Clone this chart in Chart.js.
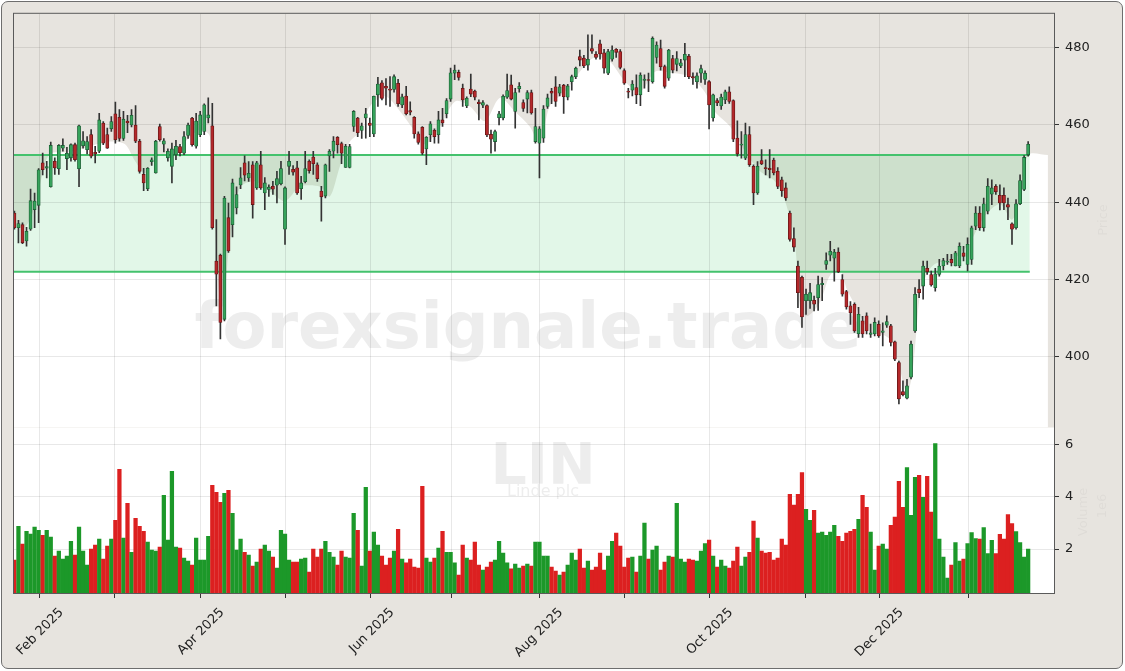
<!DOCTYPE html>
<html>
<head>
<meta charset="utf-8">
<title>LIN - Linde plc</title>
<script src="https://cdn.jsdelivr.net/npm/chart.js@4.4.1/dist/chart.umd.min.js"></script>
<style>
  html, body { margin: 0; padding: 0; background: #fff; }
  #wrap { position: relative; width: 1125px; height: 671px; }
  #frame { position: absolute; left: 1px; top: 1px; width: 1120px; height: 666px;
           border: 1.5px solid #6e6e6e; border-radius: 7px; background: #e7e4df; }
  #c { position: absolute; left: 0; top: 0; }
</style>
</head>
<body>
<div id="wrap"><div id="frame"></div><canvas id="c" width="1125" height="671"></canvas></div>
<script>
// daily candles, index 0 = 24 Jan 2025 ... 251 = 23 Jan 2026
var opens = [437.2,433.4,434.2,430.0,433.0,438.1,439.2,450.2,448.8,444.0,
  450.6,448.7,454.0,451.3,451.5,454.9,448.7,454.6,453.6,457.5,
  452.9,453.2,460.5,457.5,459.0,462.9,462.0,456.5,461.0,460.0,
  460.0,455.8,447.2,443.5,450.5,447.6,459.6,455.0,451.5,449.3,
  452.3,454.4,452.7,457.3,461.8,454.5,457.5,458.3,461.8,459.8,
  424.8,426.3,409.7,436.0,434.2,438.5,444.5,450.2,446.3,449.7,
  443.7,449.7,442.4,443.3,444.1,444.4,444.8,433.0,449.3,448.5,
  448.9,443.5,445.3,450.6,451.7,449.7,442.9,441.6,452.0,453.2,
  456.8,455.2,449.0,449.0,459.6,461.8,458.6,461.8,460.5,457.7,
  467.8,470.9,470.0,469.3,469.2,470.8,465.2,467.5,463.7,462.0,
  457.7,459.4,453.8,457.5,458.6,457.5,461.3,462.9,466.7,473.4,
  473.6,469.5,464.9,469.3,468.8,465.9,465.1,465.0,457.6,455.7,
  461.9,461.8,467.2,470.4,463.5,469.4,465.8,466.7,468.4,455.7,
  455.3,456.6,464.8,468.7,469.9,468.2,470.3,467.2,471.2,472.5,
  477.7,477.3,475.5,479.8,478.3,481.0,478.7,473.4,477.0,479.6,
  479.0,474.1,468.7,469.0,469.7,467.8,471.5,471.7,471.2,477.5,
  479.8,475.1,472.1,477.2,475.7,475.3,476.8,477.8,472.5,471.2,
  473.4,471.8,471.2,461.8,466.3,464.9,466.5,468.6,466.3,456.6,
  454.8,451.4,457.5,449.3,442.4,450.8,449.0,448.8,450.9,448.0,
  445.8,443.7,437.2,430.6,423.5,420.6,414.5,414.5,414.6,415.3,
  418.7,423.9,426.3,425.5,427.1,420.0,416.9,413.2,413.6,406.0,
  409.3,410.6,405.8,405.9,408.4,406.3,408.2,408.0,403.9,398.5,
  391.0,389.3,394.7,406.7,417.5,418.3,422.9,421.3,417.9,421.3,
  423.5,424.5,425.2,423.5,423.5,426.9,423.9,425.2,433.8,437.2,
  433.4,437.7,442.1,444.1,441.8,441.8,439.4,434.4,433.4,439.6,
  443.3,452.3];
var highs = [437.7,435.3,434.7,433.5,443.4,442.4,448.7,452.7,450.6,455.6,
  451.5,454.9,456.4,454.2,455.1,455.3,460.0,458.3,457.0,458.8,
  454.5,463.0,460.9,459.2,462.2,465.9,464.0,463.5,462.5,464.0,
  465.0,456.3,448.8,449.0,451.5,456.0,460.2,456.5,453.8,455.3,
  456.0,455.0,458.3,460.5,462.0,463.0,463.5,465.5,467.0,465.6,
  435.5,426.6,441.5,439.8,446.0,444.0,449.0,452.0,450.5,450.5,
  450.6,453.2,446.4,444.5,445.4,448.0,450.6,444.0,453.2,449.5,
  450.6,446.7,453.2,451.0,453.2,450.2,444.1,449.9,453.6,457.0,
  457.0,455.6,455.0,455.0,463.7,462.0,460.5,464.3,461.8,467.5,
  472.3,471.5,472.0,472.5,473.0,471.8,468.0,470.0,466.0,462.2,
  458.2,459.6,457.0,460.9,459.0,463.5,464.3,466.8,474.7,475.5,
  474.2,470.6,467.3,473.2,469.0,466.5,466.3,465.2,458.7,458.7,
  463.5,467.8,473.2,472.9,469.5,471.0,466.5,468.9,469.0,464.3,
  459.6,465.0,468.0,469.5,472.5,470.5,470.5,470.5,472.9,475.0,
  479.4,478.0,483.3,483.3,479.0,482.0,479.6,479.6,480.5,479.8,
  479.5,474.5,469.5,471.5,473.0,473.5,473.0,473.4,482.8,481.5,
  482.0,475.5,479.6,478.0,479.0,477.0,481.1,478.3,473.5,473.5,
  475.5,474.0,471.5,468.0,466.8,468.0,469.0,469.9,466.5,461.1,
  458.3,460.5,459.6,449.7,450.5,453.6,451.0,453.6,451.4,449.0,
  446.5,445.0,437.7,433.4,424.8,420.9,417.5,419.0,415.7,420.9,
  420.5,426.9,429.9,427.8,428.2,421.3,417.2,414.3,414.0,412.8,
  410.5,411.4,408.5,410.1,409.3,408.8,410.6,408.4,404.1,398.9,
  393.8,394.2,404.1,417.9,420.0,424.8,424.8,422.2,422.9,425.2,
  425.5,426.5,426.5,427.3,429.5,428.6,430.8,433.8,438.9,438.9,
  441.1,446.1,445.8,444.6,444.5,443.7,441.1,434.7,440.7,447.1,
  452.1,455.7];
var lows = [433.0,429.5,429.3,428.6,432.7,433.4,434.7,447.1,446.3,443.9,
  447.2,447.2,453.2,448.4,450.6,450.6,444.0,454.0,452.5,451.5,
  450.2,452.8,454.9,453.9,458.3,455.3,455.8,456.0,458.0,459.5,
  455.4,447.5,443.0,443.0,449.5,447.5,455.8,453.0,450.6,445.0,
  451.0,452.0,452.3,456.5,454.5,454.0,457.0,457.5,460.5,433.0,
  413.2,404.6,409.3,427.0,431.0,437.0,443.5,445.5,445.4,435.9,
  443.3,443.3,438.1,441.5,442.0,439.8,444.5,429.1,447.2,447.0,
  442.0,440.7,445.0,447.5,447.2,445.4,435.1,441.1,448.0,451.5,
  452.7,450.0,449.0,448.9,458.3,457.0,456.5,456.6,457.0,457.0,
  464.8,466.5,465.2,464.8,468.5,464.8,464.5,462.6,462.6,456.6,
  455.0,452.3,449.7,455.7,455.3,455.3,459.6,461.8,466.1,471.7,
  471.6,464.8,464.5,467.3,466.5,461.3,464.5,457.0,452.7,453.2,
  460.0,461.3,466.9,466.5,459.2,468.5,463.5,463.1,462.8,455.3,
  446.3,455.5,464.3,465.5,464.8,467.5,463.0,466.5,469.0,472.0,
  475.3,474.8,474.2,478.5,477.0,477.0,473.4,473.0,476.5,477.5,
  474.5,470.5,467.0,467.5,465.5,465.0,469.5,468.6,470.8,476.0,
  474.2,469.5,471.5,473.5,474.0,474.8,472.5,472.0,470.5,469.5,
  471.0,470.5,459.0,461.0,465.0,464.0,465.5,465.6,455.7,451.9,
  451.4,451.0,449.3,439.4,442.0,449.7,447.1,446.3,447.1,443.5,
  441.5,440.5,429.9,427.3,412.7,407.6,411.0,412.5,411.9,412.0,
  414.5,422.6,424.8,419.6,421.8,415.7,412.3,408.4,406.3,405.0,
  405.0,405.9,405.0,405.4,405.0,402.8,407.6,402.8,399.0,387.8,
  389.9,389.1,394.3,406.3,415.3,414.9,421.3,418.3,417.0,420.9,
  422.5,423.9,423.5,423.5,423.1,424.8,422.2,423.9,432.9,432.7,
  432.5,437.0,439.4,442.0,438.0,438.1,435.5,429.1,433.0,439.4,
  443.0,451.9];
var closes = [433.4,434.5,429.5,432.5,440.4,440.3,448.4,448.4,449.2,454.7,
  448.9,454.7,454.7,452.7,454.9,451.0,459.8,455.9,455.7,451.9,
  452.5,461.3,455.3,454.0,460.9,456.2,456.5,461.5,460.5,462.5,
  455.8,448.0,445.0,448.8,451.0,455.8,456.2,455.9,453.2,453.8,
  454.5,452.8,457.0,460.0,454.9,461.0,462.6,465.2,462.6,433.4,
  421.4,408.9,441.1,427.4,445.0,442.0,446.3,447.0,447.5,439.4,
  450.2,443.7,445.0,443.9,443.4,446.1,448.7,443.7,450.6,447.8,
  442.4,445.0,448.7,448.2,450.0,446.1,441.4,449.7,453.2,455.8,
  454.9,452.7,454.5,454.4,463.5,458.0,459.8,462.9,459.9,467.4,
  470.6,466.9,469.5,469.0,472.5,465.5,467.3,462.9,463.3,457.7,
  455.5,452.7,456.8,460.3,457.0,461.3,460.5,466.3,473.5,474.2,
  472.3,466.5,466.9,468.0,467.2,465.5,465.8,457.4,456.3,458.3,
  462.9,467.4,468.9,466.7,468.4,470.0,464.3,468.4,463.1,459.6,
  459.0,464.1,467.0,468.2,466.1,469.9,467.3,470.1,472.5,474.7,
  476.8,475.3,477.0,479.1,477.5,478.4,474.7,479.0,479.4,478.8,
  474.9,470.8,468.5,470.6,467.8,472.9,471.9,471.5,482.4,480.7,
  475.1,470.0,479.4,474.2,477.2,476.1,478.3,472.5,472.2,472.7,
  474.6,473.4,465.2,467.8,465.7,467.2,468.6,466.1,456.3,452.5,
  455.0,457.5,449.7,442.4,449.3,449.9,448.7,448.4,447.6,444.1,
  443.0,441.1,430.4,428.4,416.6,410.3,416.2,416.6,413.6,418.7,
  419.0,424.9,427.3,427.1,422.0,416.2,412.9,411.4,406.7,411.0,
  405.9,406.7,406.2,408.9,405.4,406.7,409.1,403.7,399.4,389.1,
  390.2,392.5,403.3,416.2,416.6,423.5,422.0,418.6,421.5,423.5,
  424.9,424.8,424.3,426.9,428.6,426.0,429.1,433.4,437.2,433.4,
  439.6,444.1,443.7,442.7,439.8,439.8,438.7,433.0,439.6,445.6,
  451.6,455.0];
// volume in millions
var volumes = [1.58,2.87,2.19,2.68,2.57,2.84,2.72,2.53,2.72,2.46,
  1.73,1.92,1.62,1.73,2.30,1.77,2.84,1.92,1.39,2.00,
  2.15,2.38,1.62,2.11,2.38,3.10,5.05,2.42,3.75,1.88,
  3.18,2.87,2.68,2.27,1.96,1.92,2.08,4.06,2.34,4.97,
  2.08,2.04,1.66,1.54,1.39,2.42,1.58,1.58,2.49,4.44,
  4.17,3.79,4.13,4.25,3.37,1.96,2.38,1.88,1.77,1.35,
  1.50,2.00,2.15,1.92,1.69,1.27,2.72,2.57,1.58,1.50,
  1.50,1.62,1.66,1.12,2.00,1.69,2.00,2.30,1.88,1.69,
  1.39,1.92,1.69,1.66,3.37,2.72,1.35,4.36,1.92,2.65,
  2.15,1.73,1.39,1.66,1.92,2.76,1.62,1.47,1.62,1.31,
  1.27,4.40,1.66,1.50,1.66,2.04,2.68,1.88,1.88,1.47,
  1.01,2.15,1.66,1.58,2.27,1.39,1.20,1.31,1.50,1.58,
  2.30,1.85,1.47,1.24,1.43,1.27,1.35,1.43,1.35,2.27,
  2.27,1.73,1.73,1.31,1.16,1.01,1.12,1.39,1.85,1.58,
  2.00,1.27,1.54,1.20,1.31,1.85,1.20,1.73,2.30,2.61,
  2.11,1.31,1.66,1.69,1.12,1.73,2.99,1.62,1.96,2.11,
  1.20,1.50,1.73,1.69,3.75,1.62,1.50,1.62,1.58,1.54,
  1.92,2.21,2.34,1.73,1.31,1.58,1.35,1.27,1.54,2.08,
  1.35,1.69,1.88,3.07,2.42,1.92,1.85,1.88,1.58,1.66,
  2.38,2.15,4.09,3.68,4.09,4.93,3.52,3.10,3.48,2.61,
  2.65,2.53,2.65,2.91,2.49,2.30,2.61,2.68,2.76,3.14,
  4.06,3.60,2.65,1.20,2.11,2.19,2.00,2.91,3.22,4.59,
  3.60,5.12,3.29,4.74,4.82,3.98,4.78,3.42,6.04,2.38,
  1.69,0.89,1.39,2.25,1.54,1.62,2.21,2.63,2.40,2.38,
  2.82,1.83,2.33,1.83,2.56,2.38,3.32,2.98,2.67,2.25,
  1.69,2.00];

// month ticks (candle index) and labels
var monthTickPos = [6.2, 24.9, 46.0, 67.0, 88.1, 108.3, 129.9, 151.0, 172.0, 195.8, 214.2, 236.2];
var monthTickLabels = ['Feb 2025', '', 'Apr 2025', '', 'Jun 2025', '', 'Aug 2025', '', 'Oct 2025', '', 'Dec 2025', ''];

// range band
var bandHigh = 452.2;
var bandLow = 422.0;
var bandEnd = 251.4;

// outline of the light area under the price
var shadeX = [-0.1,2.6,5.1,6.9,8.8,13.8,18.7,23.7,27.4,29.9,32.4,34.8,38.5,42.3,46.0,48.4,49.3,50.2,51.0,52.0,
  53.0,54.5,56.0,59.6,63.3,67.0,70.7,75.7,78.1,80.6,83.1,85.6,88.0,91.8,95.5,99.2,101.7,105.4,109.1,112.8,
  116.5,120.2,123.9,127.6,130.1,132.6,136.3,140.0,143.7,147.4,151.2,154.9,158.6,162.3,167.3,170.9,173.4,177.2,180.9,184.6,
  188.3,190.8,193.2,194.5,196.2,199.4,201.9,204.4,206.1,208.1,211.8,215.5,217.5,219.2,221.0,222.2,223.2,224.2,225.7,227.9,
  232.8,236.5,240.3,244.0,247.0,249.0,251.0,255.9];
var shadeY = [433.8,433.5,439.0,447.0,452.5,453.0,454.5,455.7,455.0,450.6,447.5,451.5,453.0,455.7,458.8,457.0,440.0,424.0,414.0,416.0,
  427.0,437.0,444.0,445.4,442.8,440.3,444.0,444.0,441.5,449.3,455.7,458.3,464.8,467.4,463.5,458.3,455.0,459.6,466.1,464.8,
  461.0,467.0,463.5,459.6,455.0,465.0,468.6,473.8,477.5,476.4,471.2,468.6,473.8,473.5,472.5,468.6,463.5,459.6,453.2,448.0,
  445.4,440.3,430.0,413.0,410.5,414.0,421.0,422.5,417.5,413.5,406.5,405.5,403.5,397.0,390.5,395.0,405.0,416.0,421.0,424.0,
  425.5,429.5,436.5,439.5,435.5,441.0,452.2,452.2];

var UP = '#36a35b', UP_EDGE = '#1d5f35', DOWN = '#b4282b', DOWN_EDGE = '#651515';
var VOL_UP = '#1c9829', VOL_DOWN = '#dc2020';

var bodies = [], wicks = [], vols = [], bodyFill = [], bodyEdge = [], volFill = [];
for (var i = 0; i < closes.length; i++) {
  var up = closes[i] >= opens[i];
  bodies.push({x: i, y: [opens[i], closes[i]]});
  wicks.push({x: i, y: [lows[i], highs[i]]});
  vols.push({x: i, y: volumes[i]});
  bodyFill.push(up ? UP : DOWN);
  bodyEdge.push(up ? UP_EDGE : DOWN_EDGE);
  volFill.push(up ? VOL_UP : VOL_DOWN);
}
var shade = shadeX.map(function (x, j) { return {x: x, y: shadeY[j]}; });

function vtext(c, txt, x, y) {
  c.save();
  c.translate(x, y);
  c.rotate(-Math.PI / 2);
  c.fillText(txt, 0, 0);
  c.restore();
}

var panels = {
  id: 'panels',
  beforeDraw: function (chart) {
    var c = chart.ctx, a = chart.chartArea, v = chart.scales.yv;
    c.save();
    c.fillStyle = '#ffffff';
    c.fillRect(a.left, v.top, a.right - a.left, v.bottom - v.top);
    c.restore();
  },
  beforeDatasetsDraw: function (chart) {
    var c = chart.ctx;
    c.save();
    c.textAlign = 'center';
    c.textBaseline = 'alphabetic';
    c.fillStyle = 'rgba(140,140,140,0.16)';
    c.font = 'bold 64px "DejaVu Sans"';
    c.fillText('forexsignale.trade', 528, 348);
    c.font = 'bold 57px "DejaVu Sans"';
    c.fillText('LIN', 543, 484);
    c.font = '16px "DejaVu Sans"';
    c.fillText('Linde plc', 543, 496);
    c.restore();
  },
  afterDraw: function (chart) {
    var c = chart.ctx, a = chart.chartArea;
    c.save();
    c.strokeStyle = '#5a5a5a';
    c.lineWidth = 1;
    c.strokeRect(a.left - 0.5, a.top - 0.5, a.right - a.left + 1, a.bottom - a.top + 1);
    // faint axis titles on the right
    c.fillStyle = 'rgba(0,0,0,0.035)';
    c.textAlign = 'center';
    c.textBaseline = 'middle';
    c.font = '13px "DejaVu Sans"';
    vtext(c, 'Price', 1104, 220);
    vtext(c, 'Volume', 1084, 512);
    vtext(c, '1e6', 1103, 506);
    c.restore();
  }
};

Chart.defaults.font.family = '"DejaVu Sans", sans-serif';
Chart.defaults.font.size = 13;
Chart.defaults.color = '#222';

var GRID = 'rgba(0,0,0,0.09)';

new Chart(document.getElementById('c'), {
  data: {
    datasets: [
      {type: 'bar', label: 'Body', data: bodies, yAxisID: 'y', backgroundColor: bodyFill, borderColor: bodyEdge,
       borderWidth: 0.8, borderSkipped: false, barThickness: 3.2, minBarLength: 1, grouped: false, order: 0},
      {type: 'bar', label: 'Wick', data: wicks, yAxisID: 'y', backgroundColor: '#333333',
       barThickness: 1, grouped: false, order: 1},
      {type: 'bar', label: 'Volume', data: vols, yAxisID: 'yv', backgroundColor: volFill,
       barThickness: 3.6, grouped: false, order: 0},
      {type: 'line', label: 'Band high', data: [{x: -0.1, y: bandHigh}, {x: bandEnd, y: bandHigh}], yAxisID: 'y',
       borderColor: '#44c26d', borderWidth: 2, pointRadius: 0, fill: '+1', backgroundColor: 'rgba(60,200,100,0.15)', order: 3},
      {type: 'line', label: 'Band low', data: [{x: -0.1, y: bandLow}, {x: bandEnd, y: bandLow}], yAxisID: 'y',
       borderColor: '#44c26d', borderWidth: 2, pointRadius: 0, fill: false, order: 3},
      {type: 'line', label: 'Shade', data: shade, yAxisID: 'y', borderWidth: 0, pointRadius: 0,
       fill: 'start', backgroundColor: '#ffffff', tension: 0.3, order: 5}
    ]
  },
  options: {
    responsive: false,
    animation: false,
    devicePixelRatio: 1,
    layout: {padding: {left: 14, top: 12, right: 0, bottom: 0}},
    plugins: {legend: {display: false}, tooltip: {enabled: false}, filler: {drawTime: 'beforeDraw'}},
    scales: {
      x: {
        type: 'linear', min: -0.1, max: 257.4, offset: false,
        grid: {color: GRID, tickColor: '#333', tickLength: 5, offset: false},
        border: {color: '#555'},
        afterBuildTicks: function (s) { s.ticks = monthTickPos.map(function (v) { return {value: v}; }); },
        afterFit: function (s) { s.height = 78; s.paddingLeft = 0; s.paddingRight = 0; },
        ticks: {autoSkip: false, maxRotation: 45, minRotation: 45, labelOffset: 22, padding: 7,
                callback: function (v, i) { return monthTickLabels[i]; }}
      },
      y: {
        type: 'linear', position: 'right', stack: 'main', stackWeight: 415, min: 381.7, max: 488.77,
        grid: {color: GRID, tickColor: '#333', tickLength: 5},
        border: {color: '#555'},
        ticks: {stepSize: 20, includeBounds: false, padding: 6},
        afterFit: function (s) { s.width = 71; }
      },
      yv: {
        type: 'linear', position: 'right', stack: 'main', stackWeight: 166, min: 0.32, max: 6.65,
        grid: {color: GRID, tickColor: '#333', tickLength: 5},
        border: {color: '#555'},
        ticks: {stepSize: 2, includeBounds: false, padding: 6},
        afterFit: function (s) { s.width = 71; }
      }
    }
  },
  plugins: [panels]
});
</script>
</body>
</html>
